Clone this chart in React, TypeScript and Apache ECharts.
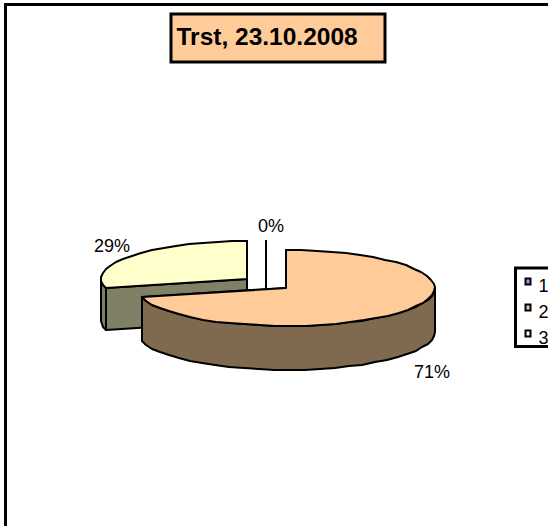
import React, { useEffect, useRef } from "react";
import * as echarts from "echarts";

const titleText = "Trst, 23.10.2008";
const categories = ["1", "2", "3"];
const values = [0, 71, 29];
const topColors = ["#9999FF", "#FFCC99", "#FFFFCC"];
const sideColors = ["#4D4D80", "#806A4F", "#808066"];
const apexX = [266, 286, 247];
const apexY = [279, 288, 279];
const radiusX = [146, 149, 146];
const depths = [42, 44, 42];
const labelX = [271, 432, 112];
const labelY = [226, 372, 246];
const seriesZ = [2, 3, 1];
const radiusY = 38;
const total = values.reduce((a, b) => a + b, 0);

const font = "'Liberation Sans', Arial, sans-serif";

function renderSlice(params: any, api: any) {
  const i = params.seriesIndex;
  const value = api.value(0);
  const depth = depths[i];
  const before = values.slice(0, i).reduce((a, b) => a + b, 0);
  const a0 = (before / total) * 360;
  const a1 = ((before + value) / total) * 360;
  const cx = apexX[i];
  const cy = apexY[i];
  const pt = (deg: number, dy = 0) => {
    const r = (deg * Math.PI) / 180;
    return [
      Math.round(cx + radiusX[i] * Math.sin(r)),
      Math.round(cy - radiusY * Math.cos(r) + dy),
    ];
  };
  const arc = (from: number, to: number, dy = 0) => {
    const pts: number[][] = [];
    const n = Math.max(1, Math.ceil((to - from) / 6));
    for (let k = 0; k <= n; k++) pts.push(pt(from + ((to - from) * k) / n, dy));
    return pts;
  };
  const edge = { stroke: "#000", lineWidth: 2, lineJoin: "round" };
  const side = { ...edge, fill: sideColors[i] };
  const children: any[] = [];
  const face = (deg: number) => {
    const p = pt(deg);
    const q = pt(deg, depth);
    children.push({
      type: "polygon",
      shape: { points: [[cx, cy], p, q, [cx, cy + depth]] },
      style: side,
    });
  };
  face(a0);
  face(a1);
  const wallFrom = Math.max(a0, 90);
  const wallTo = Math.min(a1, 270);
  if (wallTo > wallFrom) {
    children.push({
      type: "polygon",
      shape: {
        points: [...arc(wallFrom, wallTo), ...arc(wallFrom, wallTo, depth).reverse()],
      },
      style: side,
    });
  }
  children.push({
    type: "polygon",
    shape: { points: [[cx, cy], ...arc(a0, a1)] },
    style: { ...edge, fill: topColors[i] },
  });
  children.push({
    type: "text",
    style: {
      x: labelX[i],
      y: labelY[i],
      text: Math.round((value / total) * 100) + "%",
      fill: "#000",
      font: `18px ${font}`,
      align: "center",
      verticalAlign: "middle",
    },
  });
  return { type: "group", children };
}

export default function App() {
  const ref = useRef<HTMLDivElement>(null);
  useEffect(() => {
    document.body.style.margin = "0";
    const chart = echarts.init(ref.current!, null, { renderer: "svg" });
    chart.setOption({
      animation: false,
      backgroundColor: "#fff",
      title: {
        text: titleText,
        left: 170.5,
        top: 14.5,
        padding: [10, 28, 13, 6],
        backgroundColor: "#FFCC99",
        borderColor: "#000",
        borderWidth: 3,
        textStyle: { fontFamily: font, fontSize: 24.5, fontWeight: "bold", color: "#000", lineHeight: 24 },
      },
      legend: {
        data: categories,
        orient: "vertical",
        left: 515.5,
        top: 268,
        padding: [8.5, 30, 0, 9],
        itemGap: 8,
        itemWidth: 5,
        itemHeight: 6,
        icon: "rect",
        borderColor: "#000",
        borderWidth: 3,
        selectedMode: false,
        itemStyle: { borderColor: "#000", borderWidth: 2 },
        formatter: "{a|{name}}",
        textStyle: {
          fontFamily: font,
          fontSize: 18,
          color: "#000",
          rich: { a: { fontFamily: font, fontSize: 18, color: "#000", padding: [8, 0, 0, 3] } },
        },
      },
      graphic: [
        {
          type: "rect",
          z: -1,
          shape: { x: 5.5, y: 4.5, width: 700, height: 700 },
          style: { fill: "none", stroke: "#000", lineWidth: 3 },
        },
      ],
      series: categories.map((name, i) => ({
        type: "custom",
        name,
        coordinateSystem: "none",
        z: seriesZ[i],
        itemStyle: { color: topColors[i] },
        data: [[values[i]]],
        renderItem: renderSlice,
      })),
    });
    return () => chart.dispose();
  }, []);
  return <div ref={ref} style={{ width: 548, height: 526 }} />;
}
